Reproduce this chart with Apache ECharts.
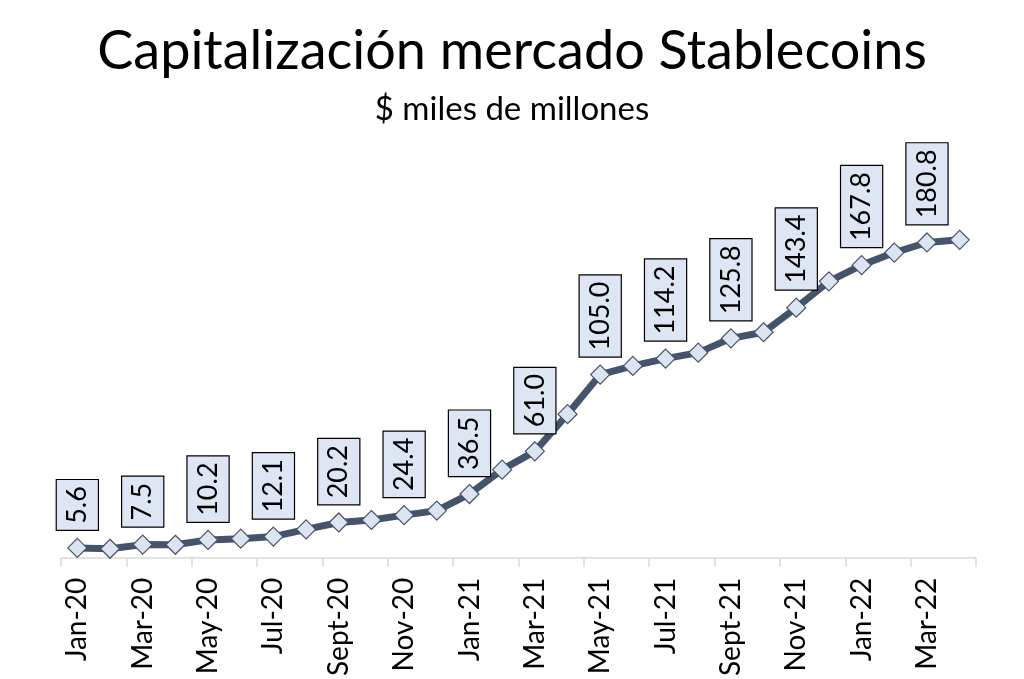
<!DOCTYPE html>
<html>
<head>
<meta charset="utf-8">
<style>
  html, body { margin: 0; padding: 0; background: #fff; }
  #chart { width: 1024px; height: 679px; }
</style>
<script src="https://cdn.jsdelivr.net/npm/echarts@6/dist/echarts.min.js"></script>
</head>
<body>
<div id="chart"></div>
<script>
// meses (Jan-20 .. Apr-22)
const months = [
  "Jan-20", "Feb-20", "Mar-20", "Apr-20", "May-20", "Jun-20", "Jul-20", "Aug-20", "Sept-20", "Oct-20", "Nov-20", "Dec-20",
  "Jan-21", "Feb-21", "Mar-21", "Apr-21", "May-21", "Jun-21", "Jul-21", "Aug-21", "Sept-21", "Oct-21", "Nov-21", "Dec-21",
  "Jan-22", "Feb-22", "Mar-22", "Apr-22"
];
// capitalización, $ miles de millones
const capValues = [
  5.6, 5.1, 7.5, 7.4, 10.2, 10.9, 12.1, 16.2, 20.2, 21.6, 24.4, 27.0,
  36.5, 50.5, 61.0, 82.3, 105.0, 110.0, 114.2, 117.6, 125.8, 129.3, 143.4, 158.5,
  167.8, 175.0, 180.8, 182.3
];

const FONT = "Lato";
const LINE = "#44546A";

// solo se etiquetan los meses impares (uno sí, uno no)
const seriesData = capValues.map((v, i) => ({
  value: v,
  label: { show: i % 2 === 0 }
}));

const chart = echarts.init(document.getElementById("chart"));
chart.setOption({
  animation: false,
  title: [
    {
      text: "Capitalización mercado Stablecoins",
      left: "center",
      top: 20,
      textStyle: { fontFamily: FONT, fontSize: 54, fontWeight: "normal", color: "#000" }
    },
    {
      text: "$ miles de millones",
      left: "center",
      top: 88,
      textStyle: { fontFamily: FONT, fontSize: 33, fontWeight: "normal", color: "#000" }
    }
  ],
  grid: { left: 61, right: 48, top: 209, bottom: 120, containLabel: false },
  xAxis: {
    type: "category",
    data: months,
    boundaryGap: true,
    axisLine: { lineStyle: { color: "#d9d9d9", width: 1.5 } },
    axisTick: { show: true, interval: 1, length: 9, lineStyle: { color: "#d9d9d9", width: 1.5 } },
    axisLabel: {
      interval: 1,
      rotate: 90,
      margin: 20,
      fontFamily: FONT,
      fontSize: 28,
      color: "#000"
    }
  },
  yAxis: {
    type: "value",
    min: 0,
    max: 200,
    show: false,
    splitLine: { show: false }
  },
  series: [
    {
      type: "line",
      data: seriesData,
      symbol: "diamond",
      symbolSize: 19,
      lineStyle: { color: LINE, width: 7 },
      itemStyle: { color: "#DCE3F1", borderColor: LINE, borderWidth: 1.2 },
      label: {
        position: "top",
        distance: 8,
        rotate: 90,
        align: "left",
        verticalAlign: "middle",
        formatter: p => p.value.toFixed(1),
        fontFamily: FONT,
        fontSize: 27,
        lineHeight: 27,
        color: "#000",
        backgroundColor: "#DDE6F2",
        borderColor: "#000",
        borderWidth: 1.2,
        padding: [7, 6, 7, 6]
      },
      z: 3
    }
  ]
});
</script>
</body>
</html>
